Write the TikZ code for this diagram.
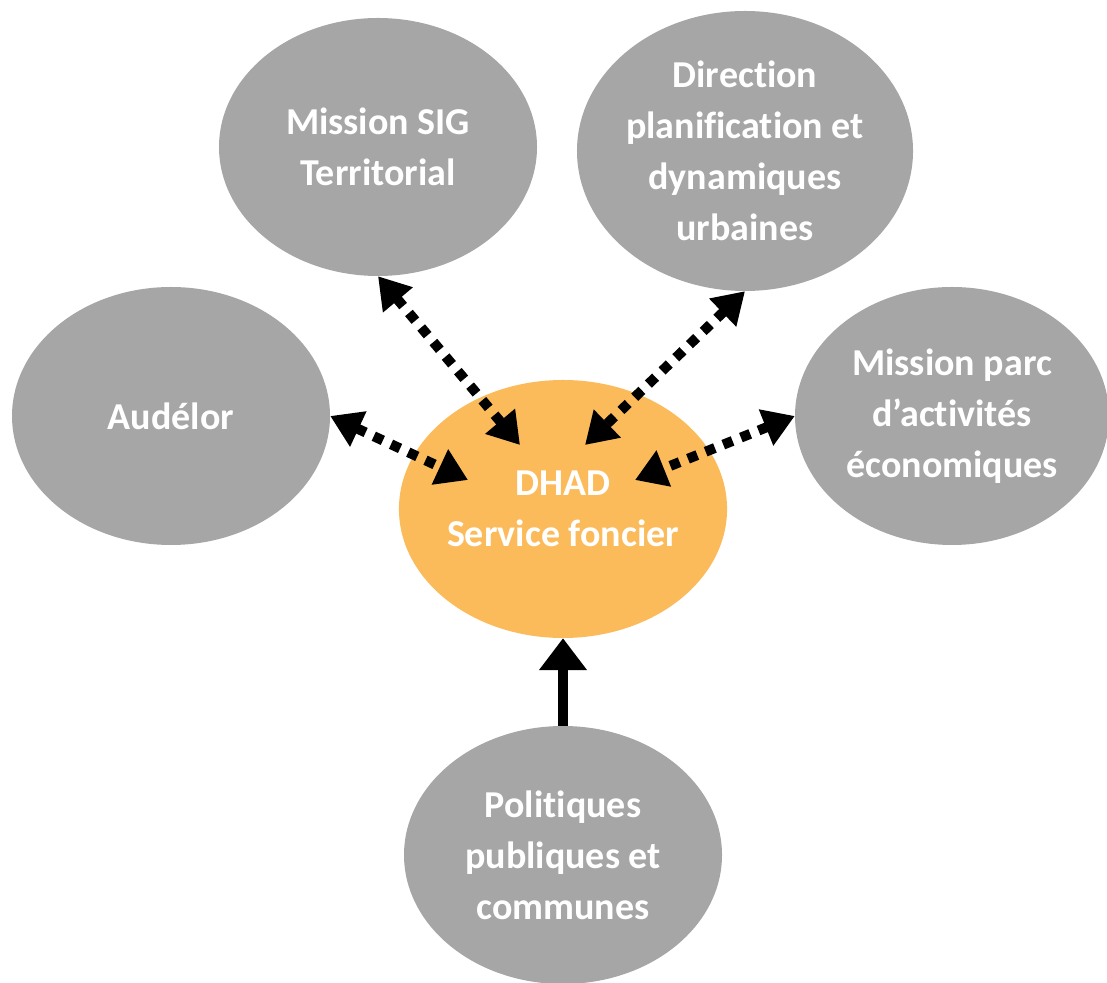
\documentclass[tikz,border=0pt]{standalone}
\usepackage{fontspec}
\setmainfont{Carlito}[Ligatures=NoCommon]
\usetikzlibrary{shapes.geometric,arrows.meta,calc}
\definecolor{bubblegray}{HTML}{A6A6A6}
\definecolor{bubbleorange}{HTML}{FCBB5B}
\begin{document}
\begin{tikzpicture}[x=1pt,y=1pt,
  bubble/.style={ellipse, fill=bubblegray, draw=none, minimum width=318pt, minimum height=258pt, inner sep=0pt,
    text=white, align=center, font=\fontsize{38}{51}\selectfont\bfseries},
  dotlink/.style={line width=10pt, dash pattern=on 10pt off 9pt, {Triangle[length=31pt,width=37pt]}-{Triangle[length=31pt,width=37pt]}},
  solidlink/.style={line width=10pt, -{Triangle[length=32pt,width=46pt]}}]
\useasboundingbox (0,0) rectangle (1107,982);
\node[bubble] (sig) at (378,835) {Mission SIG\\Territorial};
\node[bubble, minimum height=280pt] (dir) at (745,831) {Direction\\planification et\\dynamiques\\urbaines};
\node[bubble] (aud) at (171,566) {Audélor};
\node[bubble, minimum width=314pt] (mpa) at (952,566) {Mission parc\\d’activités\\économiques};
\node[bubble, fill=bubbleorange] (dhad) at (563,473) {DHAD\\Service foncier};
\node[bubble] (pol) at (563,127) {Politiques\\publiques et\\communes};
\draw[dotlink] (sig.south) -- ($(dhad.center)+(-43,64)$);
\draw[dotlink] (aud.east) -- ($(dhad.center)+(-95,29)$);
\draw[dotlink] (dir.south) -- ($(dhad.center)+(22,64)$);
\draw[dotlink] (mpa.west) -- ($(dhad.center)+(72,29)$);
\draw[solidlink] (pol.north) -- (dhad.south);
\end{tikzpicture}
\end{document}
